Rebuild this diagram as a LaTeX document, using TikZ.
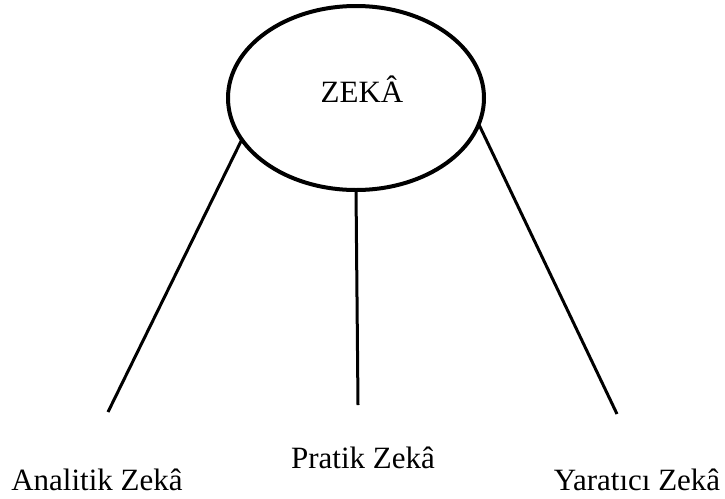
\documentclass[tikz,border=0pt]{standalone}
\usepackage{fontspec}
\setmainfont{Liberation Serif}
\usetikzlibrary{shapes.geometric}
\begin{document}
\begin{tikzpicture}[x=1pt, y=-1pt, every node/.style={font=\fontsize{31}{37}\selectfont, inner sep=0pt},
		oval/.style={ellipse, draw, line width=4pt, minimum width=256pt, minimum height=184pt, outer sep=0pt},
		branch/.style={line width=3pt}]
		\useasboundingbox (0,0) rectangle (725,498);
		\node[oval] at (356,98) (Zeka) {};
		\node[anchor=base] at (362,102) (ZekaText) {ZEKÂ};
		\coordinate (A) at (108,412);
		\coordinate (P) at (358,405);
		\coordinate (Y) at (617,414);
		\node[anchor=base] at (97,490) (Analitik) {Analitik Zekâ};
		\node[anchor=base] at (363,468) (Pratik) {Pratik Zekâ};
		\node[anchor=base] at (637,490) (Yaratici) {Yaratıcı Zekâ};
		\draw[branch] (Zeka.200) -- (A);
		\draw[branch] (Zeka.south) -- (P);
		\draw[branch] (Zeka.-12) -- (Y);
		\end{tikzpicture}
\end{document}
